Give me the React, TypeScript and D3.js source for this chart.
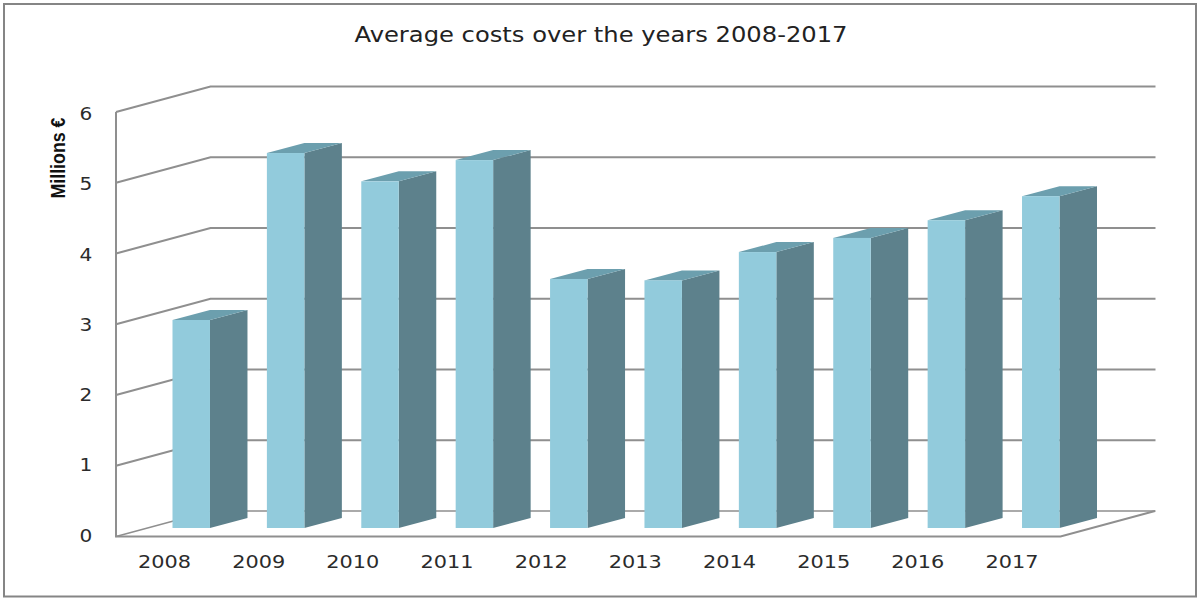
import React from "react";
import * as d3 from "d3";

// Average cost per year, in millions of euros
const years = ["2008", "2009", "2010", "2011", "2012", "2013", "2014", "2015", "2016", "2017"];
const costs = [2.94, 5.3, 4.9, 5.2, 3.52, 3.5, 3.9, 4.1, 4.35, 4.69];
const yTicks = [0, 1, 2, 3, 4, 5, 6];

const titleText = "Average costs over the years 2008-2017";
const yAxisText = "Millions €";

const W = 1197;
const H = 599;

// Oblique projection of the 3D box: floor and wall depth
const wallDx = 94.5;
const wallDy = -25.5;
const barDx = 37.5;
const barDy = -10;
const barFloorShift = -8.5;

const axisX = 116;
const floorRight = 1060.5;

const y = d3.scaleLinear().domain([0, 6]).range([536.5, 112]);
const band = d3
  .scaleBand<string>()
  .domain(years)
  .range([172.5, 1059.5])
  .paddingInner(0.603)
  .paddingOuter(0);
const labelX = d3.scalePoint<string>().domain(years).range([164.5, 1012]);
const labelY = d3.scaleLinear().domain([0, 6]).range([541.5, 120]);

const gridColor = "#8f8f8f";
const frontColor = "#92cbdc";
const sideColor = "#5d818c";
const topColor = "#6c9fae";
const textColor = "#2b2b2b";
const font = "'DejaVu Sans', sans-serif";

const polyLine = d3.line<[number, number]>();

export default function App() {
  return (
    <svg
      width={W}
      height={H}
      viewBox={`0 0 ${W} ${H}`}
      style={{ position: "absolute", left: 0, top: 0, display: "block", background: "#fff" }}
    >
      <rect x={4} y={4} width={1192} height={592.5} fill="#fff" stroke="#858585" strokeWidth={2} />

      <text
        x={601}
        y={42}
        textAnchor="middle"
        fontFamily={font}
        fontSize={22}
        fill="#222"
        textLength={493}
        lengthAdjust="spacingAndGlyphs"
      >
        {titleText}
      </text>

      {/* Gridlines running across the side wall and the back wall */}
      {yTicks.map((t) => (
        <path
          key={t}
          fill="none"
          stroke={gridColor}
          strokeWidth={t === 0 ? 1.5 : 2}
          d={
            polyLine([
              [axisX, y(t)],
              [axisX + wallDx, y(t) + wallDy],
              [axisX + wallDx + 945, y(t) + wallDy],
            ]) ?? ""
          }
        />
      ))}

      {/* Front edge of the floor and the vertical axis */}
      <path
        fill="none"
        stroke={gridColor}
        strokeWidth={2}
        d={
          polyLine([
            [axisX, y(6)],
            [axisX, y(0)],
            [floorRight, y(0)],
            [floorRight + wallDx, y(0) + wallDy],
          ]) ?? ""
        }
      />

      {/* Each bar is a box drawn from its front, side and top faces */}
      {years.map((year, i) => {
        const x0 = band(year) ?? 0;
        const x1 = x0 + band.bandwidth();
        const top = y(costs[i]) + barFloorShift;
        const bottom = y(0) + barFloorShift;
        const side: [number, number][] = [
          [x1, top],
          [x1 + barDx, top + barDy],
          [x1 + barDx, bottom + barDy],
          [x1, bottom],
        ];
        const cap: [number, number][] = [
          [x0, top],
          [x0 + barDx, top + barDy],
          [x1 + barDx, top + barDy],
          [x1, top],
        ];
        return (
          <g key={year}>
            <path d={(polyLine(side) ?? "") + "Z"} fill={sideColor} />
            <path d={(polyLine(cap) ?? "") + "Z"} fill={topColor} />
            <rect x={x0} y={top} width={x1 - x0} height={bottom - top} fill={frontColor} />
          </g>
        );
      })}

      {yTicks.map((t) => (
        <text
          key={t}
          x={86}
          y={labelY(t)}
          textAnchor="middle"
          fontFamily={font}
          fontSize={17.5}
          fill={textColor}
          textLength={12.8}
          lengthAdjust="spacingAndGlyphs"
        >
          {t}
        </text>
      ))}

      {years.map((year) => (
        <text
          key={year}
          x={labelX(year)}
          y={567.5}
          textAnchor="middle"
          fontFamily={font}
          fontSize={17.5}
          fill={textColor}
          textLength={53}
          lengthAdjust="spacingAndGlyphs"
        >
          {year}
        </text>
      ))}

      <text
        transform="translate(65,158) rotate(-90)"
        textAnchor="middle"
        fontFamily="'Liberation Sans Narrow', 'Liberation Sans', sans-serif"
        fontWeight="bold"
        fontSize={21}
        fill="#111"
        textLength={81}
        lengthAdjust="spacingAndGlyphs"
      >
        {yAxisText}
      </text>
    </svg>
  );
}
